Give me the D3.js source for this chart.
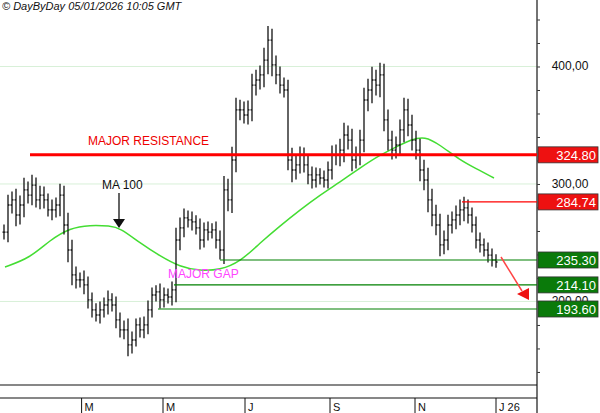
<!DOCTYPE html>
<html><head><meta charset="utf-8">
<script src="https://cdn.jsdelivr.net/npm/d3@7"></script>
<style>body{margin:0;background:#fff}svg{display:block;font-family:Arial,"Liberation Sans",sans-serif}</style>
</head><body><svg id="c" width="600" height="413"></svg>
<script>
const closes=[259.1,282.1,286.4,273.6,282.1,294.9,290.6,299.1,286.4,290.6,286.4,277.9,277.9,282.1,290.6,265.1,243.8,222.6,218.3,218.3,214.1,201.3,192.8,188.5,192.8,197.0,201.3,197.0,184.3,175.8,175.8,163.0,167.2,180.0,175.8,180.0,192.8,205.5,208.1,201.3,205.5,203.8,209.8,252.3,262.6,271.1,269.4,267.7,262.6,252.3,260.9,259.1,260.9,252.3,243.8,294.9,286.4,320.4,363.0,363.0,358.7,363.0,384.2,388.5,392.8,405.5,422.5,401.3,392.8,384.2,380.0,320.4,311.9,316.2,324.7,316.2,307.7,303.4,307.7,305.1,303.4,311.9,324.7,324.7,328.9,341.7,337.4,320.4,324.7,337.4,371.5,380.0,388.5,384.2,392.8,354.5,337.4,328.9,333.2,346.0,363.0,350.2,337.4,328.9,311.9,303.4,286.4,273.6,265.1,248.1,252.3,265.1,269.4,273.6,277.9,279.6,273.6,265.1,252.3,248.1,243.8,239.5,235.3,233.6];
const ranges=[16,22,18,24,20,26,18,22,16,20,18,14,22,16,24,20,26,22,18,16,20,18,16,14,18,16,20,14,18,16,20,24,18,14,16,18,20,16,14,18,16,14,18,26,22,20,16,18,14,20,16,18,14,18,20,30,24,28,26,22,18,20,24,22,20,26,30,24,20,18,16,22,26,20,18,16,20,18,16,14,16,18,20,22,24,26,20,24,18,22,26,24,28,22,26,24,22,20,18,22,26,24,22,20,24,22,26,24,22,24,20,22,18,20,22,24,18,16,18,16,14,16,14,12];
const maIdx=[0.25,6.5,11.5,16.5,21.5,26.5,29,34,39,44,49,54,59,64,69,74,79,84,89,94,99,101.5,105.25,109,114,117.75,122.5];
const maVals=[229.4,237.0,252.3,262.6,265.1,264.3,262.6,249.8,238.7,229.4,226.0,226.8,233.6,249.8,264.3,277.9,290.6,301.7,313.6,324.7,333.2,337.4,340.8,333.2,320.4,313.6,305.1];
const monthLabels=["M","M","J","S","N","J 26"];
const monthIdx=[19.4,39.75,60.25,81.5,102.75,123];
const gridVals=[400,300,200];
const gridLabels=["400,00","300,00","200,00"];
const levels=[324.80,284.74,235.30,214.10,193.60];
const levelStart=[6.5,114.5,54,42.5,38.5];
const levelColor=["#ff0000","#ff0000","#008000","#008000","#008000"];
const levelWidth=[3,1.2,1.2,1.2,1.2];
const levelFill=["#ee1111","#ee1111","#0a7a0a","#0a7a0a","#0a7a0a"];

const svg=d3.select("#c");
const x=d3.scaleLinear().domain([0,123]).range([4,496]);
const y=d3.scaleLinear().domain([128.9,456.6]).range([385,0]);
const R=537;

svg.selectAll(".g").data(gridVals).join("line").attr("x1",0).attr("x2",R)
  .attr("y1",d=>y(d)).attr("y2",d=>y(d)).attr("stroke","#d8f0d8").attr("stroke-width",1);

const ax=svg.append("g").attr("transform",`translate(${R},0)`).call(
  d3.axisRight(y).tickValues(d3.range(140,460,20)).tickSize(3).tickFormat(""));
ax.select(".domain").remove();
ax.selectAll("line").attr("stroke","#333");
svg.append("line").attr("x1",R).attr("x2",R).attr("y1",0).attr("y2",413).attr("stroke","#444").attr("stroke-width",1.5);
svg.selectAll(".gl").data(gridVals.slice(0,2)).join("text").attr("x",570).attr("y",d=>y(d)+4)
  .attr("text-anchor","middle").attr("font-size",12).attr("fill","#111").text((d,i)=>gridLabels[i]);
// partially hidden 200,00 label (under the 193.60 box), clipped to its upper part
svg.append("clipPath").attr("id","cl").append("rect").attr("x",540).attr("y",y(200)-12).attr("width",60).attr("height",y(193.6)-8-(y(200)-12));
svg.append("text").attr("clip-path","url(#cl)").attr("x",570).attr("y",y(200)+4)
  .attr("text-anchor","middle").attr("font-size",12).attr("fill","#111").text(gridLabels[2]);

svg.append("path").datum(maIdx.map((d,i)=>[d,maVals[i]]))
  .attr("d",d3.line().x(d=>x(d[0])).y(d=>y(d[1])).curve(d3.curveBasis))
  .attr("fill","none").attr("stroke","#44dd33").attr("stroke-width",1.5);

const bars=svg.append("g").attr("stroke","#111").attr("stroke-width",1.3);
closes.forEach((c,i)=>{
  const o=i>0?closes[i-1]:c, r=ranges[i];
  const hi=Math.max(o,c)+r*0.4, lo=Math.min(o,c)-r*0.4;
  const xi=x(i);
  bars.append("line").attr("x1",xi).attr("x2",xi).attr("y1",y(hi)).attr("y2",y(lo));
  bars.append("line").attr("x1",xi-1.5).attr("x2",xi).attr("y1",y(o)).attr("y2",y(o));
  bars.append("line").attr("x1",xi).attr("x2",xi+1.5).attr("y1",y(c)).attr("y2",y(c));
});

levels.forEach((v,i)=>{
  svg.append("line").attr("x1",x(levelStart[i])).attr("x2",R).attr("y1",y(v)).attr("y2",y(v))
    .attr("stroke",levelColor[i]).attr("stroke-width",levelWidth[i]);
  svg.append("rect").attr("x",R+1).attr("y",y(v)-8).attr("width",60).attr("height",16)
    .attr("fill",levelFill[i]).attr("stroke","#333").attr("stroke-width",0.8);
  svg.append("text").attr("x",R+59).attr("y",y(v)+5).attr("text-anchor","end")
    .attr("font-size",13).attr("fill","#fff").text(v.toFixed(2));
});

svg.append("text").attr("x",88).attr("y",145).attr("font-size",12).attr("fill","#ee0000").text("MAJOR RESISTANCE");
svg.append("text").attr("x",102).attr("y",189).attr("font-size",12).attr("fill","#111").text("MA 100");
svg.append("line").attr("x1",119).attr("x2",119).attr("y1",193).attr("y2",222).attr("stroke","#111").attr("stroke-width",1.3);
svg.append("path").attr("d","M113,219 L125,219 L119,228 Z").attr("fill","#111");
svg.append("text").attr("x",168).attr("y",278).attr("font-size",12).attr("fill","#ff44ff").text("MAJOR GAP");
svg.append("line").attr("x1",501).attr("x2",522).attr("y1",257).attr("y2",291).attr("stroke","#ff4444").attr("stroke-width",1.5);
svg.append("path").attr("d","M517,294 L529,288 L529,300 Z").attr("fill","#ee1111");

svg.append("line").attr("x1",0).attr("x2",R).attr("y1",385).attr("y2",385).attr("stroke","#111").attr("stroke-width",1.2);
svg.append("line").attr("x1",0).attr("x2",R).attr("y1",398).attr("y2",398).attr("stroke","#111").attr("stroke-width",1.2);
svg.selectAll(".mt").data(monthIdx).join("line").attr("x1",d=>x(d)).attr("x2",d=>x(d))
  .attr("y1",398).attr("y2",413).attr("stroke","#111");
svg.selectAll(".ml").data(monthIdx).join("text").attr("x",d=>x(d)+3).attr("y",411)
  .attr("font-size",11).attr("fill","#111").text((d,i)=>monthLabels[i]);

svg.append("text").attr("x",2).attr("y",10).attr("font-size",11).attr("font-style","italic").attr("fill","#111")
  .text("© DayByDay 05/01/2026  10:05 GMT");
</script></body></html>
